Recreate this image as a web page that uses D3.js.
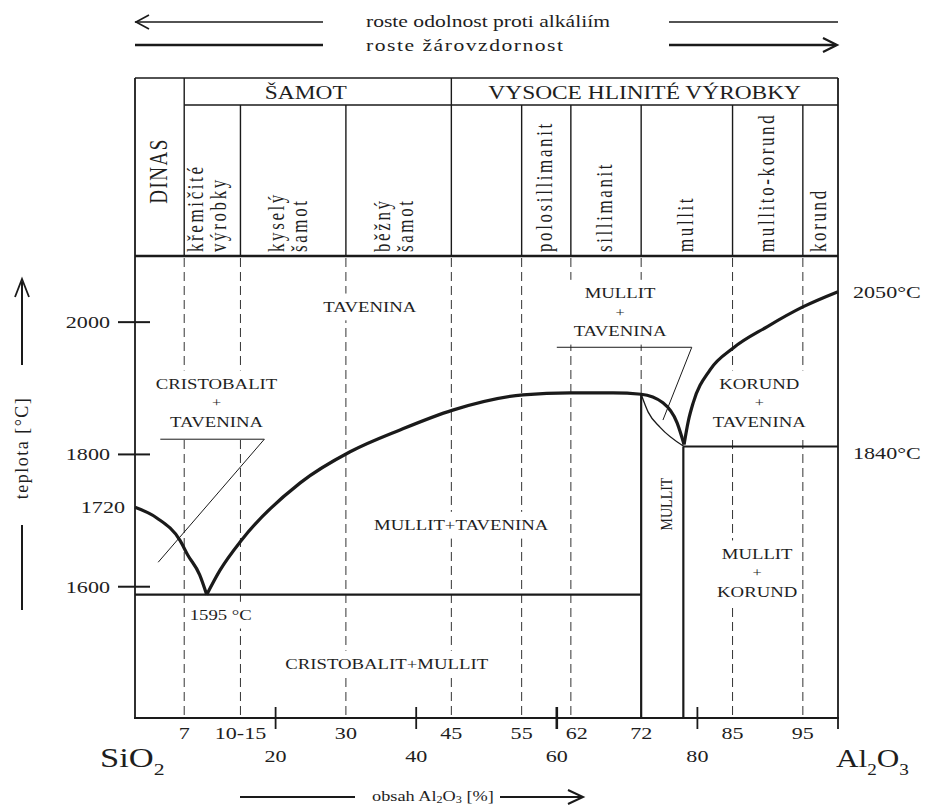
<!DOCTYPE html>
<html><head><meta charset="utf-8">
<script src="https://cdn.jsdelivr.net/npm/d3@7"></script>
<style>
body{margin:0;background:#fff}
svg{display:block}
text{font-family:"Liberation Serif","Times New Roman",serif;fill:#1e1e1e}
</style></head><body>
<svg id="c" width="926" height="807"></svg>
<script>
// ---------------- DATA ----------------
const yTicks = [2000, 1800, 1600];
const yExtraLabels = [1720];
const xLabelsRow1 = [[7,"7"],[15,"10-15"],[30,"30"],[45,"45"],[55,"55"],[62,"62"],[72,"72"],[85,"85"],[95,"95"]];
const xMajorTicks = [20, 40, 60, 80];
const xLabelsRow2 = [[20,"20"],[40,"40"],[60,"60"],[80,"80"]];
const dashedBounds = [7, 15, 30, 45, 55, 62, 85, 95];
const headerCols = [
  [0, 7, ["DINAS"]],
  [7, 15, ["křemičité", "výrobky"]],
  [15, 30, ["kyselý", "šamot"]],
  [30, 45, ["běžný", "šamot"]],
  [45, 55, []],
  [55, 62, ["polosillimanit"]],
  [62, 72, ["sillimanit"]],
  [72, 85, ["mullit"]],
  [85, 95, ["mullito-korund"]],
  [95, 100, ["korund"]]
];
const headerGroups = [[7, 45, "ŠAMOT"], [45, 100, "VYSOCE HLINITÉ VÝROBKY"]];
// liquidus curves  [Al2O3 %, °C]
const cristobaliteLiquidus = [[0,1720],[3.1,1704],[6.4,1670],[7.5,1648],[9.2,1618],[10.2,1588]];
const mulliteLiquidus = [[10.2,1588],[12.1,1625],[15.2,1671],[23.5,1757],[30.6,1804],[37.7,1837],[45.2,1867],[55.2,1890],[61.9,1893],[68,1893],[72,1891],[75.1,1878],[77.1,1848],[78.1,1815]];
const mulliteLensLower = [[72,1891],[73,1864],[74.7,1841],[78.1,1812]];
const corundumLiquidus = [[78.1,1815],[78.7,1850],[79.4,1878],[81.8,1928],[85.1,1961],[89.9,1993],[95,2023],[100,2046]];
const eutecticLines = [[0,72,1588],[78,100,1812]];
const mulliteBounds = [[72,1891],[78,1812]];
const leaderLines = [
  [[3.6,1823],[18.4,1823],[3.3,1637]],
  [[60,1962],[79.2,1962],[75.1,1852]]
];
const regionLabels = [
  [33.4, 2023, ["TAVENINA"]],
  [69.0, 2015, ["MULLIT","+","TAVENINA"]],
  [11.6, 1878, ["CRISTOBALIT","+","TAVENINA"]],
  [88.8, 1878, ["KORUND","+","TAVENINA"]],
  [46.4, 1693, ["MULLIT+TAVENINA"]],
  [35.8, 1483, ["CRISTOBALIT+MULLIT"]],
  [88.5, 1621, ["MULLIT","+","KORUND"]]
];
const eutecticLabel = [12.2, 1557, "1595 °C"];
const mulliteVertLabel = [75.5, 1725, "MULLIT"];
const rightLabels = [[2046, "2050°C"], [1812, "1840°C"]];
const topTexts = ["roste odolnost proti alkáliím", "roste žárovzdornost"];

// ---------------- CHART ----------------
const svg = d3.select("#c");
const INK = "#1a1a1a";
const x = d3.scaleLinear().domain([0, 100]).range([135, 838]);
const y = d3.scaleLinear().domain([1400, 2100]).range([719, 256]);
const HT = 78, HG = 105, HB = y(2100), AX = y(1400) - 1;
const curve = d3.line().x(d => x(d[0])).y(d => y(d[1])).curve(d3.curveMonotoneX);
const straight = d3.line().x(d => x(d[0])).y(d => y(d[1]));

function hLine(x1, x2, yy, w) {
  svg.append("line").attr("x1", x1).attr("x2", x2).attr("y1", yy).attr("y2", yy)
    .attr("stroke", INK).attr("stroke-width", w);
}
function vLine(xx, y1, y2, w, dash) {
  const l = svg.append("line").attr("x1", xx).attr("x2", xx).attr("y1", y1).attr("y2", y2)
    .attr("stroke", dash ? "#333" : INK).attr("stroke-width", w);
  if (dash) l.attr("stroke-dasharray", "9,5");
}
function sText(parent, tx, ty, str, size, sx, anchor, base) {
  return parent.append("text")
    .attr("transform", `translate(${tx},${ty}) scale(${sx},1)`)
    .attr("text-anchor", anchor || "middle")
    .attr("dominant-baseline", base || "central")
    .attr("font-size", size).text(str);
}

// top arrows and texts
hLine(135, 323, 22, 1.5);
svg.append("path").attr("d", "M149,15 L136,22 L149,29").attr("fill", "none").attr("stroke", INK).attr("stroke-width", 1.6);
hLine(669, 838, 22, 1.5);
hLine(135, 323, 45, 2.6);
hLine(669, 836, 45, 2.6);
svg.append("path").attr("d", "M823,38 L837,45 L823,52").attr("fill", "none").attr("stroke", INK).attr("stroke-width", 2.2);
sText(svg, 366, 21, topTexts[0], 17, 1.27, "start");
sText(svg, 366, 45, topTexts[1], 17, 1.27, "start").attr("letter-spacing", 1.2);

// dashed composition boundaries
dashedBounds.forEach(v => vLine(x(v), HB + 2, AX, 1, true));
vLine(x(72), HB + 2, y(1891), 1, true);

// region labels with white background
function labelBlock(cx, cy, lines) {
  const g = svg.append("g");
  const step = 19;
  const t0 = cy - (lines.length - 1) * step / 2;
  lines.forEach((s, i) => sText(g, cx, t0 + i * step, s, s === "+" ? 13 : 15, 1.25));
  const bb = g.node().getBBox();
  g.insert("rect", ":first-child").attr("x", bb.x - 4).attr("y", bb.y - 5)
    .attr("width", bb.width + 8).attr("height", bb.height + 10).attr("fill", "#fff");
}
regionLabels.forEach(d => labelBlock(x(d[0]), y(d[1]), d[2]));
labelBlock(x(eutecticLabel[0]), y(eutecticLabel[1]), [eutecticLabel[2]]);
svg.append("text").attr("transform", `translate(${x(mulliteVertLabel[0])},${y(mulliteVertLabel[1])}) scale(1.25,1) rotate(-90)`)
  .attr("text-anchor", "middle").attr("dominant-baseline", "central").attr("font-size", 14)
  .text(mulliteVertLabel[2]);

// header table
hLine(135, 838, HT, 1.6);
hLine(x(7), 838, HG, 1.4);
hLine(135, 838, HB, 2.6);
headerCols.forEach((c, i) => {
  if (i > 0) vLine(x(c[0]), (c[0] === 7 || c[0] === 45) ? HT : HG, HB, 1.4);
  const cx = (x(c[0]) + x(c[1])) / 2;
  if (c[2].length === 1 && c[2][0] === "DINAS") {
    svg.append("text").attr("transform", `translate(${cx + 7},171) scale(1.35,1) rotate(-90)`)
      .attr("text-anchor", "middle").attr("font-size", 19).attr("letter-spacing", 1.5).text(c[2][0]);
  } else {
    const offs = c[2].length === 2 ? [-9, 14] : [6];
    c[2].forEach((s, j) => {
      svg.append("text").attr("transform", `translate(${cx + offs[j]},252) scale(1.3,1) rotate(-90)`)
        .attr("text-anchor", "start").attr("font-size", 17).attr("letter-spacing", 2.6).text(s);
    });
  }
});
const groupShift = [-12, 0];
headerGroups.forEach((g, i) => sText(svg, (x(g[0]) + x(g[1])) / 2 + groupShift[i], (HT + HG) / 2 + 1, g[2], 18, 1.3));

// frame
vLine(135, HT, AX + 1, 1.8);
vLine(838, HT, AX + 11, 1.8);
hLine(134, 839, AX, 2.2);

// y axis
yTicks.forEach(v => {
  hLine(118, 150, y(v), 2);
  sText(svg, 110, y(v), String(v), 17, 1.3, "end");
});
yExtraLabels.forEach(v => sText(svg, 125, y(v), String(v), 17, 1.3, "end"));
svg.append("text").attr("transform", `translate(28,448) rotate(-90)`)
  .attr("text-anchor", "middle").attr("font-size", 18).attr("letter-spacing", 1.5).text("teplota  [°C]");
vLine(22, 282, 365, 2);
svg.append("path").attr("d", "M15,297 L22,279 L29,297").attr("fill", "none").attr("stroke", INK).attr("stroke-width", 1.8);
vLine(22, 525, 610, 2);

// x axis
xMajorTicks.forEach(v => vLine(x(v), AX - 11, AX + 11, v === 60 ? 2.6 : 1.8));
xLabelsRow1.forEach(d => sText(svg, x(d[0]) + (d[0] === 62 ? 6 : 0), 733, d[1], 17, 1.3));
xLabelsRow2.forEach(d => sText(svg, x(d[0]), 756, d[1], 17, 1.3));

const si = svg.append("text").attr("transform", "translate(100,767) scale(1.28,1)").attr("font-size", 27);
si.append("tspan").text("SiO");
si.append("tspan").attr("font-size", 17).attr("dy", 8).text("2");
const al = svg.append("text").attr("transform", "translate(836,767) scale(1.2,1)").attr("font-size", 26);
al.append("tspan").text("Al");
al.append("tspan").attr("font-size", 16).attr("dy", 8).text("2");
al.append("tspan").attr("dy", -8).text("O");
al.append("tspan").attr("font-size", 16).attr("dy", 8).text("3");

// x title
hLine(240, 355, 797, 1.8);
const tt = svg.append("text").attr("transform", "translate(372,801) scale(1.22,1)").attr("font-size", 15);
tt.append("tspan").text("obsah Al");
tt.append("tspan").attr("font-size", 10).attr("dy", 2).text("2");
tt.append("tspan").attr("dy", -2).text("O");
tt.append("tspan").attr("font-size", 10).attr("dy", 2).text("3");
tt.append("tspan").attr("dy", -2).text(" [%]");
hLine(500, 582, 797, 2.2);
svg.append("path").attr("d", "M568,790 L583,797 L568,804").attr("fill", "none").attr("stroke", INK).attr("stroke-width", 2);

// right labels
rightLabels.forEach(d => sText(svg, 853, y(d[0]) - (d[0] > 2000 ? 0 : -6), d[1], 17, 1.3, "start"));

// phase boundaries
eutecticLines.forEach(d => hLine(x(d[0]), x(d[1]), y(d[2]), 2.2));
mulliteBounds.forEach(d => vLine(x(d[0]), y(d[1]), AX, 2.2));
[cristobaliteLiquidus, mulliteLiquidus, corundumLiquidus].forEach(c =>
  svg.append("path").attr("d", curve(c)).attr("fill", "none").attr("stroke", INK).attr("stroke-width", 3.2));
svg.append("path").attr("d", curve(mulliteLensLower)).attr("fill", "none").attr("stroke", INK).attr("stroke-width", 1.3);
leaderLines.forEach(l => svg.append("path").attr("d", straight(l)).attr("fill", "none").attr("stroke", INK).attr("stroke-width", 1));
</script>
</body></html>
